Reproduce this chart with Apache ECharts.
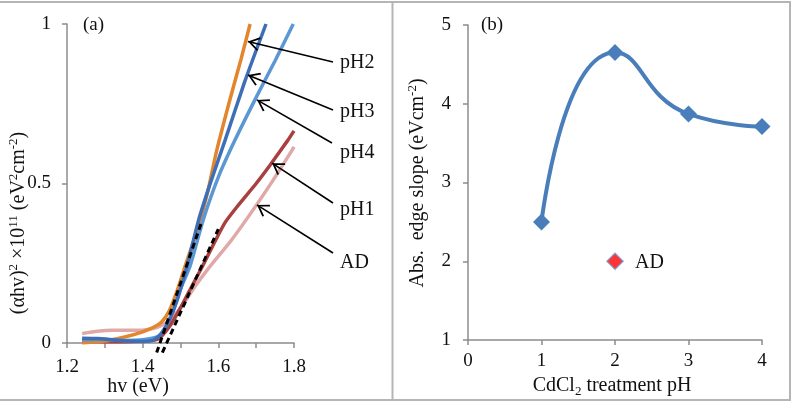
<!DOCTYPE html>
<html>
<head>
<meta charset="utf-8">
<script src="https://cdn.jsdelivr.net/npm/echarts@6/dist/echarts.min.js"></script>
<style>
  html, body { margin: 0; padding: 0; background: #fff; }
  #chart { width: 791px; height: 402px; }
</style>
</head>
<body>
<div id="chart"></div>
<script>
// panel (a): (αhv)^2 vs hv for each film
const pH2X = [1.24, 1.30, 1.35, 1.40, 1.43, 1.45, 1.47, 1.49, 1.512, 1.535, 1.556, 1.575, 1.595, 1.63, 1.66, 1.684]
const pH2Y = [0.000, 0.006, 0.018, 0.035, 0.050, 0.066, 0.100, 0.160, 0.240, 0.320, 0.400, 0.490, 0.600, 0.760, 0.890, 1.000]
const pH3X = [1.24, 1.28, 1.32, 1.36, 1.40, 1.43, 1.45, 1.47, 1.49, 1.517, 1.548, 1.58, 1.618, 1.67, 1.726]
const pH3Y = [0.015, 0.014, 0.010, 0.006, 0.005, 0.010, 0.030, 0.070, 0.130, 0.240, 0.386, 0.505, 0.636, 0.820, 1.000]
const pH4X = [1.24, 1.30, 1.35, 1.40, 1.44, 1.46, 1.48, 1.50, 1.525, 1.56, 1.60, 1.644, 1.70, 1.75, 1.798]
const pH4Y = [0.010, 0.012, 0.008, 0.010, 0.020, 0.050, 0.100, 0.170, 0.240, 0.386, 0.520, 0.636, 0.770, 0.885, 1.000]
const pH1X = [1.24, 1.30, 1.35, 1.40, 1.44, 1.47, 1.50, 1.53, 1.556, 1.591, 1.618, 1.65, 1.70, 1.737, 1.784, 1.80]
const pH1Y = [0.005, 0.004, 0.004, 0.006, 0.012, 0.050, 0.110, 0.178, 0.236, 0.318, 0.378, 0.428, 0.500, 0.558, 0.636, 0.665]
const adX = [1.24, 1.28, 1.32, 1.36, 1.40, 1.44, 1.47, 1.50, 1.54, 1.578, 1.635, 1.701, 1.75, 1.79, 1.80]
const adY = [0.030, 0.037, 0.040, 0.040, 0.040, 0.050, 0.070, 0.110, 0.180, 0.240, 0.323, 0.433, 0.520, 0.595, 0.615]
// dashed linear fits
const fitAX = [1.437, 1.556]
const fitAY = [-0.03, 0.38]
const fitBX = [1.452, 1.600]
const fitBY = [-0.03, 0.357]
const xTicksA = [1.2, 1.4, 1.6, 1.8]

// panel (b): absorption edge slope vs CdCl2 pH
const treatPH = [1, 2, 3, 4]
const edgeSlope = [2.5, 4.65, 3.87, 3.71]
const adPH = [2]
const adSlope = [2.0]

// arrow tips (data coords on the curves) for the labels
const arrowTipX = [1.678, 1.678, 1.702, 1.742, 1.702]
const arrowTipY = [0.945, 0.840, 0.762, 0.564, 0.433]

const zip = (xs, ys) => xs.map((x, i) => [x, ys[i]])

const FONT = "'Liberation Serif', 'Times New Roman', serif"
const axisCol = '#8c8c8c'
// open arrow head, tip at the centre of its box so it lands on the curve
const chev = 'path://M6,-10L6.01,-10L6,-9.99Z M6,0L12,8.8L10.8,9.8L6,2.6L1.2,9.8L0,8.8Z'

const chart = echarts.init(document.getElementById('chart'))

const axisBase = {
  type: 'value',
  axisLine: { show: true, lineStyle: { color: axisCol, width: 1.5 } },
  axisTick: { show: true, inside: false, length: 5, lineStyle: { color: axisCol, width: 1.5 } },
  splitLine: { show: false },
  axisLabel: { color: '#111', fontFamily: FONT, fontSize: 19 }
}

const curve = (name, xs, ys, color) => ({
  name,
  type: 'line',
  xAxisIndex: 0,
  yAxisIndex: 0,
  data: zip(xs, ys),
  showSymbol: false,
  smooth: 0.2,
  lineStyle: { color, width: 3.5 }
})

// label start points in pixels -> tips in data coords
const arrowStart = [[333, 62], [333, 110], [332, 143], [333, 203], [333, 253]]

const option = {
  animation: false,
  grid: [
    { left: 67, top: 24, width: 227, height: 319 },
    { left: 468, top: 25, width: 294, height: 315 }
  ],
  xAxis: [
    Object.assign({}, axisBase, {
      gridIndex: 0, min: 1.2, max: 1.8, interval: 0.1,
      axisLabel: Object.assign({}, axisBase.axisLabel, {
        margin: 15,
        formatter: v => xTicksA.some(t => Math.abs(t - v) < 1e-6) ? v.toFixed(1) : ''
      })
    }),
    Object.assign({}, axisBase, {
      gridIndex: 1, min: 0, max: 4, interval: 1,
      axisLabel: Object.assign({}, axisBase.axisLabel, { margin: 12 })
    })
  ],
  yAxis: [
    Object.assign({}, axisBase, {
      gridIndex: 0, min: 0, max: 1, interval: 0.5,
      axisLabel: Object.assign({}, axisBase.axisLabel, { margin: 16 })
    }),
    Object.assign({}, axisBase, {
      gridIndex: 1, min: 1, max: 5, interval: 1,
      axisLabel: Object.assign({}, axisBase.axisLabel, { margin: 17 })
    })
  ],
  series: [
    curve('AD', adX, adY, '#e0a9a7'),
    curve('pH1', pH1X, pH1Y, '#a9403f'),
    curve('pH2', pH2X, pH2Y, '#e3852c'),
    curve('pH4', pH4X, pH4Y, '#5b97d3'),
    curve('pH3', pH3X, pH3Y, '#3e6fb6'),
    {
      type: 'line', xAxisIndex: 0, yAxisIndex: 0,
      data: zip(fitAX, fitAY), showSymbol: false, clip: false,
      lineStyle: { color: '#000', width: 3, type: [6, 4] },
      markLine: {
        silent: true,
        symbol: ['none', chev],
        symbolSize: [14, 24],
        lineStyle: { color: '#000', width: 1.6, type: 'solid' },
        label: { show: false },
        data: arrowStart.map((s, i) => [
          { x: s[0], y: s[1] },
          { coord: [arrowTipX[i], arrowTipY[i]] }
        ])
      }
    },
    {
      type: 'line', xAxisIndex: 0, yAxisIndex: 0,
      data: zip(fitBX, fitBY), showSymbol: false, clip: false,
      lineStyle: { color: '#000', width: 3, type: [6, 4] }
    },
    {
      type: 'line', xAxisIndex: 1, yAxisIndex: 1,
      data: zip(treatPH, edgeSlope),
      smooth: 0.55,
      symbol: 'diamond', symbolSize: 17,
      itemStyle: { color: '#4a7ebb' },
      lineStyle: { color: '#4a7ebb', width: 4 }
    },
    {
      type: 'scatter', xAxisIndex: 1, yAxisIndex: 1,
      data: zip(adPH, adSlope),
      symbol: 'diamond', symbolSize: 16,
      itemStyle: { color: '#ff0000', borderColor: '#7b8dc2', borderWidth: 1.5 }
    }
  ],
  graphic: [
    // frame
    { type: 'line', shape: { x1: 0, y1: 2, x2: 791, y2: 2 }, style: { stroke: '#b5b5b5', lineWidth: 2 } },
    { type: 'line', shape: { x1: 0, y1: 400, x2: 791, y2: 400 }, style: { stroke: '#b5b5b5', lineWidth: 2 } },
    { type: 'line', shape: { x1: 392.5, y1: 2, x2: 392.5, y2: 400 }, style: { stroke: '#b5b5b5', lineWidth: 2 } },
    { type: 'line', shape: { x1: 790, y1: 2, x2: 790, y2: 400 }, style: { stroke: '#b5b5b5', lineWidth: 2 } },
    // panel tags
    { type: 'text', x: 83, y: 25, style: { text: '(a)', font: '19px ' + FONT, fill: '#111', verticalAlign: 'middle' } },
    { type: 'text', x: 481, y: 25, style: { text: '(b)', font: '19px ' + FONT, fill: '#111', verticalAlign: 'middle' } },
    // curve labels
    { type: 'text', x: 340, y: 63, style: { text: 'pH2', font: '20px ' + FONT, fill: '#111', verticalAlign: 'middle' } },
    { type: 'text', x: 340, y: 112, style: { text: 'pH3', font: '20px ' + FONT, fill: '#111', verticalAlign: 'middle' } },
    { type: 'text', x: 340, y: 153, style: { text: 'pH4', font: '20px ' + FONT, fill: '#111', verticalAlign: 'middle' } },
    { type: 'text', x: 340, y: 210, style: { text: 'pH1', font: '20px ' + FONT, fill: '#111', verticalAlign: 'middle' } },
    { type: 'text', x: 340, y: 263, style: { text: 'AD', font: '20px ' + FONT, fill: '#111', verticalAlign: 'middle' } },
    { type: 'text', x: 635, y: 263, style: { text: 'AD', font: '20px ' + FONT, fill: '#111', verticalAlign: 'middle' } },
    // axis titles
    { type: 'text', x: 138, y: 387, style: { text: 'hv (eV)', font: '20px ' + FONT, fill: '#111', align: 'center', verticalAlign: 'middle' } },
    {
      type: 'text', x: 612, y: 386,
      style: {
        text: '{m|CdCl}{s|2}{m| treatment pH}', align: 'center', verticalAlign: 'middle', fill: '#111',
        rich: {
          m: { fontFamily: FONT, fontSize: 20, lineHeight: 24, fill: '#111' },
          s: { fontFamily: FONT, fontSize: 13, lineHeight: 24, verticalAlign: 'bottom', fill: '#111' }
        }
      }
    },
    {
      type: 'text', x: 19, y: 223, rotation: Math.PI / 2,
      style: {
        text: '{m|(αhv)}{s|2}{m| ×10}{s|11}{m| (eV}{s|2}{m|cm}{s|-2}{m|)}', align: 'center', verticalAlign: 'middle', fill: '#111',
        rich: {
          m: { fontFamily: FONT, fontSize: 20, lineHeight: 24, fill: '#111' },
          s: { fontFamily: FONT, fontSize: 13, lineHeight: 24, verticalAlign: 'top', fill: '#111' }
        }
      }
    },
    {
      type: 'text', x: 418, y: 183, rotation: Math.PI / 2,
      style: {
        text: '{m|Abs.  edge slope (eVcm}{s|-2}{m|)}', align: 'center', verticalAlign: 'middle', fill: '#111',
        rich: {
          m: { fontFamily: FONT, fontSize: 20, lineHeight: 24, fill: '#111' },
          s: { fontFamily: FONT, fontSize: 13, lineHeight: 24, verticalAlign: 'top', fill: '#111' }
        }
      }
    }
  ]
}

chart.setOption(option)
</script>
</body>
</html>
